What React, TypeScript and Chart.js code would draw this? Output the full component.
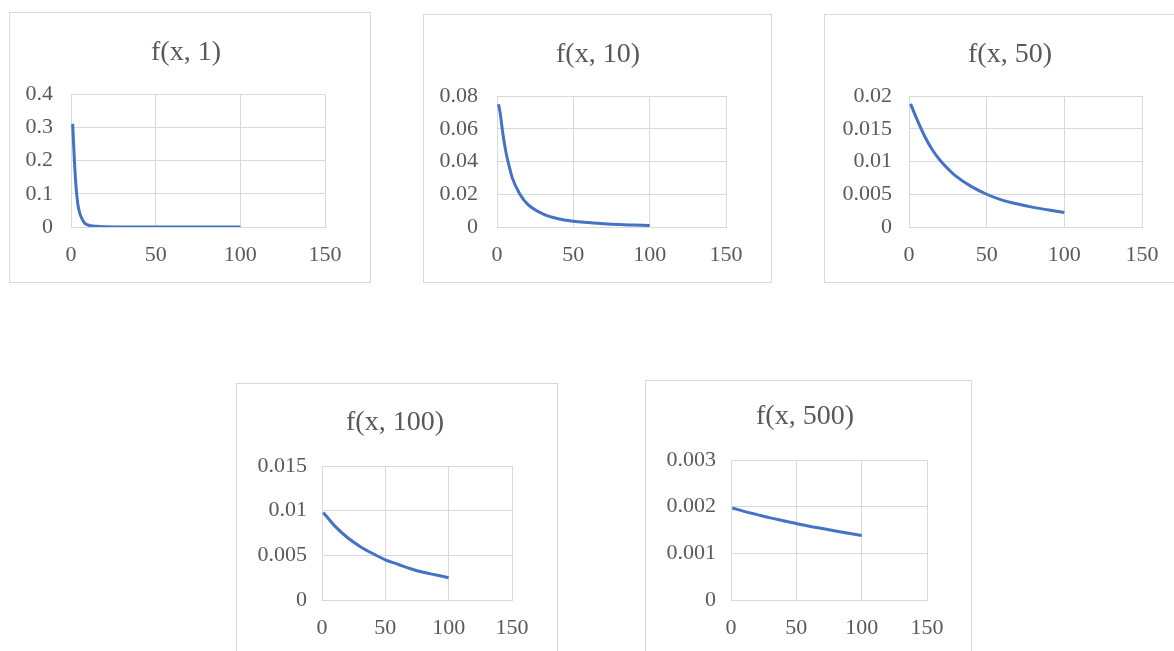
import React, { useEffect, useRef } from "react";
import { Chart, registerables } from "chart.js";

Chart.register(...registerables);

// ---------- data ----------
const titles = ["f(x, 1)", "f(x, 10)", "f(x, 50)", "f(x, 100)", "f(x, 500)"];

const xTicks = [0, 50, 100, 150];

const x1 = [1, 2, 3, 4, 5, 6, 8, 10, 15, 20, 40, 70, 100];
const y1 = [0.31, 0.2, 0.12, 0.07, 0.045, 0.03, 0.012, 0.006, 0.002, 0.001, 0.0003, 0.0001, 0.00005];
const yTicks1 = [0, 0.1, 0.2, 0.3, 0.4];

const x2 = [1, 2, 4, 6, 8, 10, 15, 20, 30, 40, 50, 60, 70, 80, 90, 100];
const y2 = [0.075, 0.07, 0.056, 0.045, 0.037, 0.03, 0.02, 0.014, 0.008, 0.005, 0.0035, 0.0027, 0.002, 0.0015, 0.0012, 0.0009];
const yTicks2 = [0, 0.02, 0.04, 0.06, 0.08];

const x3 = [1, 5, 10, 15, 20, 25, 30, 40, 50, 60, 70, 80, 90, 100];
const y3 = [0.0188, 0.0165, 0.0139, 0.0118, 0.0102, 0.0089, 0.0078, 0.0062, 0.005, 0.0041, 0.0035, 0.003, 0.0026, 0.0022];
const yTicks3 = [0, 0.005, 0.01, 0.015, 0.02];

const x4 = [1, 10, 20, 30, 40, 50, 60, 70, 80, 90, 100];
const y4 = [0.0098, 0.0083, 0.007, 0.006, 0.0052, 0.0045, 0.004, 0.0035, 0.0031, 0.0028, 0.0025];
const yTicks4 = [0, 0.005, 0.01, 0.015];

const x5 = [1, 10, 20, 30, 40, 50, 60, 70, 80, 90, 100];
const y5 = [0.00197, 0.0019, 0.00183, 0.00176, 0.0017, 0.00164, 0.00158, 0.00153, 0.00148, 0.00143, 0.00138];
const yTicks5 = [0, 0.001, 0.002, 0.003];

// ---------- layout (page positions) ----------
type Layout = {
  box: { left: number; top: number; width: number; height: number };
  plot: { left: number; top: number; right: number; bottom: number };
  titleX: number;
  titleY: number;
  yGap: number;
};

const layouts: Layout[] = [
  { box: { left: 9, top: 12, width: 362, height: 271 }, plot: { left: 61, top: 81, right: 315, bottom: 214 }, titleX: 176, titleY: 40, yGap: 18 },
  { box: { left: 423, top: 14, width: 349, height: 269 }, plot: { left: 73, top: 81, right: 302, bottom: 212 }, titleX: 174, titleY: 40, yGap: 19 },
  { box: { left: 824, top: 14, width: 372, height: 269 }, plot: { left: 84, top: 81, right: 317, bottom: 212 }, titleX: 185, titleY: 40, yGap: 17 },
  { box: { left: 236, top: 383, width: 322, height: 280 }, plot: { left: 85, top: 82, right: 275, bottom: 216 }, titleX: 158, titleY: 39, yGap: 15 },
  { box: { left: 645, top: 380, width: 327, height: 280 }, plot: { left: 85, top: 79, right: 281, bottom: 219 }, titleX: 159, titleY: 36, yGap: 15 },
];

const FONT = "'Liberation Serif', 'Times New Roman', serif";
const TEXT = "#595959";
const GRID = "#d9d9d9";
const LINE = "#4472C4";
const TITLE_SIZE = 28;
const TICK_SIZE = 22;

// lets y tick labels extend left of the (narrowed) y-axis box without clipping
const unclipYLabels = {
  id: "unclipYLabels",
  afterLayout(chart: any) {
    const y = chart.scales.y;
    if (y) y.left = 0;
  },
};

function Panel(props: { title: string; xs: number[]; ys: number[]; yTicks: number[]; layout: Layout }) {
  const { title, xs, ys, yTicks, layout } = props;
  const ref = useRef<HTMLCanvasElement | null>(null);
  const cw = layout.box.width - 2;
  const ch = layout.box.height - 2;

  useEffect(() => {
    if (!ref.current) return;
    const p = layout.plot;
    const padR = cw - p.right;
    const padL = Math.max(0, Math.min(p.left, 2 * layout.titleX - cw + padR));
    const titleLH = TITLE_SIZE * 1.2;
    const tTop = layout.titleY - titleLH / 2;
    const tBottom = p.top - tTop - titleLH;
    const tickLH = TICK_SIZE * 1.2;
    const chart = new Chart(ref.current, {
      type: "scatter",
      data: {
        datasets: [
          {
            data: xs.map((x, i) => ({ x, y: ys[i] })),
            showLine: true,
            borderColor: LINE,
            backgroundColor: LINE,
            borderWidth: 3,
            pointRadius: 0,
            cubicInterpolationMode: "monotone",
          },
        ],
      },
      plugins: [unclipYLabels],
      options: {
        responsive: false,
        animation: false,
        devicePixelRatio: 1,
        layout: { padding: { left: padL, top: 0, right: padR, bottom: 0 } },
        plugins: {
          legend: { display: false },
          tooltip: { enabled: false },
          title: {
            display: true,
            text: title,
            color: TEXT,
            font: { family: FONT, size: TITLE_SIZE, weight: "normal" },
            padding: { top: tTop, bottom: tBottom },
          },
        },
        scales: {
          x: {
            type: "linear",
            min: xTicks[0],
            max: xTicks[xTicks.length - 1],
            afterBuildTicks: (s: any) => {
              s.ticks = xTicks.map((v) => ({ value: v }));
            },
            afterFit: (s: any) => {
              s.height = ch - p.bottom;
            },
            grid: { color: GRID, lineWidth: 1, drawTicks: false },
            border: { display: true, color: GRID },
            ticks: {
              color: TEXT,
              padding: 28 - tickLH / 2,
              font: { family: FONT, size: TICK_SIZE },
              callback: (v: any) => String(v),
            },
          },
          y: {
            type: "linear",
            min: yTicks[0],
            max: yTicks[yTicks.length - 1],
            afterBuildTicks: (s: any) => {
              s.ticks = yTicks.map((v) => ({ value: v }));
            },
            afterFit: (s: any) => {
              s.width = p.left - padL;
            },
            grid: { color: GRID, lineWidth: 1, drawTicks: false },
            border: { display: true, color: GRID },
            ticks: {
              color: TEXT,
              padding: layout.yGap,
              font: { family: FONT, size: TICK_SIZE },
              callback: (v: any) => String(v),
            },
          },
        },
      } as any,
    });
    return () => chart.destroy();
  }, []);

  return (
    <div
      style={{
        position: "absolute",
        left: layout.box.left,
        top: layout.box.top,
        width: layout.box.width,
        height: layout.box.height,
        border: `1px solid ${GRID}`,
        boxSizing: "border-box",
        background: "#fff",
      }}
    >
      <canvas ref={ref} width={cw} height={ch} style={{ display: "block", width: cw, height: ch }} />
    </div>
  );
}

export default function App() {
  const series = [
    { xs: x1, ys: y1, yTicks: yTicks1 },
    { xs: x2, ys: y2, yTicks: yTicks2 },
    { xs: x3, ys: y3, yTicks: yTicks3 },
    { xs: x4, ys: y4, yTicks: yTicks4 },
    { xs: x5, ys: y5, yTicks: yTicks5 },
  ];
  return (
    <div style={{ position: "fixed", left: 0, top: 0, width: 1174, height: 651, background: "#fff", overflow: "hidden" }}>
      {series.map((s, i) => (
        <Panel key={i} title={titles[i]} xs={s.xs} ys={s.ys} yTicks={s.yTicks} layout={layouts[i]} />
      ))}
    </div>
  );
}
